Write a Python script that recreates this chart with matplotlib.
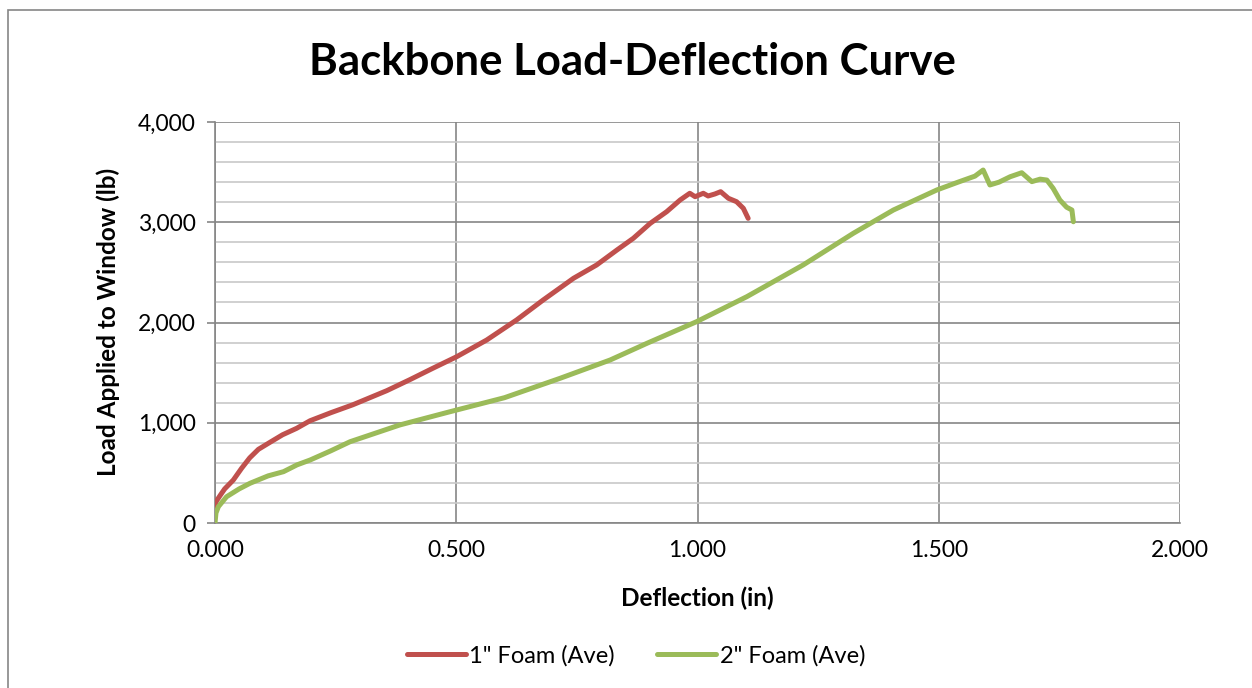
import numpy as np
import matplotlib.pyplot as plt
from matplotlib.patches import Rectangle

plt.rcParams['font.family'] = ['Lato', 'DejaVu Sans']

# 1" foam average (deflection in, load lb)
foam1_x = [0.000, 0.002, 0.010, 0.020, 0.038, 0.055, 0.072, 0.090, 0.114, 0.140, 0.169,
           0.197, 0.240, 0.286, 0.356, 0.404, 0.450, 0.501, 0.563, 0.625, 0.680, 0.743,
           0.791, 0.833, 0.867, 0.902, 0.936, 0.964, 0.984, 0.995, 1.012, 1.022, 1.036,
           1.048, 1.064, 1.081, 1.095, 1.105]
foam1_y = [150, 212, 270, 340, 429, 545, 650, 735, 805, 880, 944,
           1020, 1100, 1180, 1320, 1430, 1540, 1659, 1825, 2025, 2224, 2441,
           2574, 2723, 2840, 2989, 3105, 3222, 3289, 3255, 3289, 3262, 3282,
           3305, 3239, 3205, 3139, 3039]

# 2" foam average
foam2_x = [0.000, 0.002, 0.007, 0.024, 0.050, 0.0725, 0.110, 0.142, 0.170, 0.197, 0.240,
           0.280, 0.383, 0.487, 0.600, 0.715, 0.819, 0.895, 0.998, 1.102, 1.219, 1.323,
           1.406, 1.496, 1.540, 1.575, 1.592, 1.606, 1.625, 1.648, 1.672, 1.693,
           1.710, 1.724, 1.737, 1.751, 1.765, 1.776, 1.779]
foam2_y = [0, 100, 163, 262, 340, 396, 470, 512, 580, 628, 720,
           811, 978, 1110, 1250, 1443, 1626, 1792, 2008, 2257, 2574, 2890,
           3122, 3322, 3400, 3460, 3521, 3372, 3400, 3454, 3494, 3405,
           3430, 3421, 3339, 3222, 3150, 3122, 3005]

series_labels = ['1" Foam (Ave)', '2" Foam (Ave)']
series_colors = ['#C0504D', '#9BBB59']

fig = plt.figure(figsize=(12.52, 6.88), dpi=100)
fig.patches.append(Rectangle((8 / 1252, -0.1), 1.2, 1 - 10 / 688 + 0.1, transform=fig.transFigure,
                             fill=False, edgecolor='#868686', linewidth=1.2))

ax = fig.add_axes([215 / 1252, 1 - 523 / 688, 965 / 1252, 401 / 688])

ax.plot(foam1_x, foam1_y, color=series_colors[0], linewidth=3.6, label=series_labels[0],
        solid_capstyle='round', solid_joinstyle='round', zorder=3)
ax.plot(foam2_x, foam2_y, color=series_colors[1], linewidth=3.6, label=series_labels[1],
        solid_capstyle='round', solid_joinstyle='round', zorder=3)

ax.set_xlim(0, 2)
ax.set_ylim(0, 4000)
ax.set_xticks(np.arange(0, 2.01, 0.5))
ax.set_xticklabels(['%.3f' % v for v in np.arange(0, 2.01, 0.5)])
ax.set_yticks(np.arange(0, 4001, 1000))
ax.set_yticklabels(['{:,}'.format(int(v)) for v in np.arange(0, 4001, 1000)])
ax.set_yticks(np.arange(0, 4001, 200), minor=True)

ax.grid(True, which='major', color='#868686', linewidth=1.2, zorder=0)
ax.grid(True, which='minor', axis='y', color='#C8C8C8', linewidth=1.2, zorder=0)
ax.set_axisbelow(True)

for s in ['top', 'right']:
    ax.spines[s].set_visible(False)
for s in ['left', 'bottom']:
    ax.spines[s].set_color('#868686')
    ax.spines[s].set_linewidth(1.2)

ax.tick_params(axis='both', which='major', labelsize=16.5, color='#868686', length=6, width=1.2)
ax.tick_params(axis='y', which='minor', length=0)
ax.tick_params(axis='y', which='major', pad=8)
ax.tick_params(axis='x', which='major', length=0, pad=12)

fig.text(632 / 1252, 1 - 62 / 688, 'Backbone Load-Deflection Curve', ha='center', va='center',
         fontsize=31.5, fontweight='bold')
fig.text(697 / 1252, 1 - 598 / 688, 'Deflection (in)', ha='center', va='center',
         fontsize=17.5, fontweight='bold')
fig.text(108 / 1252, 1 - 322 / 688, 'Load Applied to Window (lb)', ha='center', va='center',
         rotation=90, fontsize=17.5, fontweight='bold')

fig.legend(loc='center', bbox_to_anchor=(636 / 1252, 1 - 656 / 688), ncol=2, frameon=False,
           fontsize=17, handlelength=2.5, handletextpad=0.15, columnspacing=1.8)

fig.savefig('out.png', dpi=100)
